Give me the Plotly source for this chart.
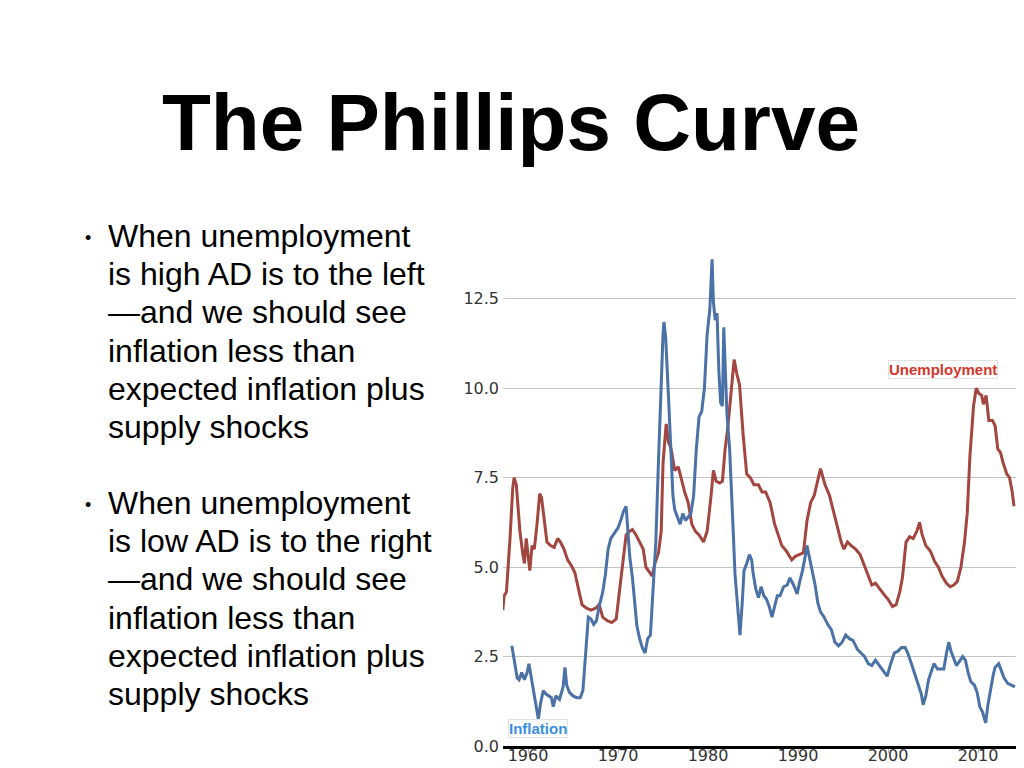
import plotly.graph_objects as go

# US unemployment rate (%)
unemp_year = [1957.2, 1957.35, 1957.6, 1957.8, 1958.0, 1958.3, 1958.45, 1958.7, 1958.9, 1959.1,
              1959.4, 1959.6, 1959.8, 1960.0, 1960.2, 1960.45, 1960.7, 1961.0, 1961.3, 1961.5,
              1961.8, 1962.1, 1962.5, 1962.9, 1963.3, 1963.6, 1964.0, 1964.4, 1964.8, 1965.2,
              1965.6, 1966.0, 1966.5, 1967.0, 1967.5, 1967.9, 1968.3, 1968.8, 1969.3, 1969.8,
              1970.1, 1970.5, 1970.9, 1971.3, 1971.6, 1972.0, 1972.4, 1972.8, 1973.1, 1973.5,
              1973.8, 1974.1, 1974.5, 1974.8, 1975.0, 1975.35, 1975.6, 1975.9, 1976.3, 1976.7,
              1977.0, 1977.4, 1977.8, 1978.2, 1978.6, 1979.0, 1979.5, 1979.9, 1980.3, 1980.6,
              1980.9, 1981.3, 1981.6, 1981.9, 1982.2, 1982.5, 1982.9, 1983.2, 1983.5, 1983.9,
              1984.3, 1984.7, 1985.1, 1985.6, 1986.0, 1986.4, 1986.9, 1987.4, 1987.8, 1988.2,
              1988.7, 1989.3, 1989.7, 1990.2, 1990.6, 1991.0, 1991.4, 1991.8, 1992.1, 1992.5,
              1993.0, 1993.5, 1993.9, 1994.4, 1994.8, 1995.1, 1995.5, 1995.9, 1996.4, 1996.9,
              1997.3, 1997.8, 1998.2, 1998.6, 1999.0, 1999.5, 2000.0, 2000.5, 2000.9, 2001.3,
              2001.6, 2002.0, 2002.4, 2002.8, 2003.2, 2003.5, 2003.8, 2004.2, 2004.7, 2005.2,
              2005.6, 2006.0, 2006.5, 2006.9, 2007.3, 2007.7, 2008.1, 2008.5, 2008.8, 2009.1,
              2009.5, 2009.8, 2010.1, 2010.4, 2010.6, 2010.9, 2011.2, 2011.6, 2011.9, 2012.2,
              2012.5, 2012.8, 2013.2, 2013.5, 2013.8, 2014.0]
unemp_rate = [3.8, 4.2, 4.3, 5.0, 5.8, 7.2, 7.5, 7.3, 6.6, 6.0,
              5.4, 5.1, 5.8, 5.3, 4.9, 5.6, 5.5, 6.2, 7.05, 6.95,
              6.4, 5.7, 5.6, 5.55, 5.8, 5.7, 5.5, 5.2, 5.05, 4.85,
              4.4, 3.95, 3.85, 3.8, 3.85, 3.95, 3.6, 3.5, 3.45, 3.55,
              4.2, 5.0, 5.9, 6.0, 6.05, 5.9, 5.7, 5.5, 5.0, 4.85,
              4.75, 5.1, 5.4, 6.0, 7.9, 9.0, 8.5, 8.3, 7.7, 7.8,
              7.5, 7.1, 6.8, 6.2, 6.0, 5.9, 5.7, 6.0, 6.9, 7.7,
              7.4, 7.35, 7.4, 8.3, 8.9, 9.7, 10.8, 10.4, 10.1, 8.7,
              7.6, 7.5, 7.3, 7.3, 7.1, 7.1, 6.8, 6.2, 5.9, 5.6,
              5.45, 5.2, 5.3, 5.35, 5.4, 6.3, 6.8, 7.0, 7.3, 7.75,
              7.3, 7.0, 6.6, 6.1, 5.7, 5.5, 5.7, 5.6, 5.5, 5.35,
              5.1, 4.8, 4.5, 4.55, 4.4, 4.25, 4.1, 3.9, 3.95, 4.3,
              4.7, 5.7, 5.85, 5.8, 6.0, 6.25, 5.9, 5.6, 5.45, 5.15,
              5.0, 4.75, 4.55, 4.45, 4.5, 4.6, 5.0, 5.7, 6.5, 8.1,
              9.5, 10.0, 9.85, 9.8, 9.55, 9.8, 9.1, 9.1, 8.95, 8.3,
              8.2, 7.9, 7.6, 7.5, 7.1, 6.7]

# core inflation (%)
infl_year = [1958.2, 1958.4, 1958.6, 1958.8, 1959.0, 1959.3, 1959.6, 1959.9, 1960.1, 1960.3,
             1960.6, 1960.9, 1961.15, 1961.4, 1961.7, 1962.0, 1962.3, 1962.6, 1962.8, 1963.1,
             1963.5, 1963.9, 1964.1, 1964.3, 1964.6, 1965.0, 1965.4, 1965.8, 1966.1, 1966.4,
             1966.7, 1967.0, 1967.3, 1967.6, 1967.9, 1968.3, 1968.6, 1968.9, 1969.2, 1969.6,
             1970.0, 1970.3, 1970.6, 1970.9, 1971.1, 1971.3, 1971.6, 1971.9, 1972.1, 1972.4,
             1972.7, 1973.0, 1973.3, 1973.6, 1973.9, 1974.2, 1974.5, 1974.75, 1975.0, 1975.1,
             1975.3, 1975.6, 1975.9, 1976.1, 1976.3, 1976.6, 1976.9, 1977.2, 1977.5, 1977.8,
             1978.1, 1978.4, 1978.7, 1979.0, 1979.3, 1979.6, 1979.9, 1980.2, 1980.45, 1980.6,
             1980.8, 1981.0, 1981.2, 1981.4, 1981.6, 1981.75, 1981.9, 1982.1, 1982.4, 1982.6,
             1982.8, 1983.0, 1983.3, 1983.55, 1983.8, 1984.0, 1984.3, 1984.6, 1984.85, 1985.0,
             1985.3, 1985.6, 1985.9, 1986.2, 1986.5, 1986.8, 1987.1, 1987.4, 1987.7, 1988.0,
             1988.4, 1988.8, 1989.1, 1989.5, 1989.9, 1990.2, 1990.5, 1990.8, 1991.0, 1991.2,
             1991.5, 1991.9, 1992.2, 1992.5, 1992.9, 1993.3, 1993.7, 1994.1, 1994.5, 1994.9,
             1995.3, 1995.7, 1996.1, 1996.6, 1997.0, 1997.4, 1997.8, 1998.2, 1998.6, 1999.0,
             1999.4, 1999.9, 2000.3, 2000.7, 2001.1, 2001.5, 2001.9, 2002.2, 2002.6, 2003.0,
             2003.4, 2003.7, 2003.9, 2004.2, 2004.5, 2004.8, 2005.1, 2005.5, 2005.9, 2006.2,
             2006.5, 2006.75, 2007.0, 2007.3, 2007.6, 2007.9, 2008.3, 2008.6, 2008.9, 2009.2,
             2009.6, 2009.9, 2010.2, 2010.5, 2010.85, 2011.1, 2011.4, 2011.7, 2011.9, 2012.3,
             2012.6, 2012.9, 2013.3, 2013.7, 2014.1]
infl_rate = [2.8, 2.5, 2.3, 1.9, 1.85, 2.05, 1.85, 2.05, 2.3, 2.0,
             1.5, 1.1, 0.75, 1.2, 1.55, 1.45, 1.4, 1.35, 1.1, 1.4,
             1.3, 1.65, 2.2, 1.7, 1.5, 1.4, 1.35, 1.35, 1.55, 2.5,
             3.6, 3.55, 3.4, 3.5, 3.9, 4.3, 4.8, 5.5, 5.8, 5.95,
             6.1, 6.3, 6.55, 6.7, 5.9, 5.3, 4.7, 4.0, 3.35, 3.0,
             2.75, 2.6, 3.0, 3.1, 4.5, 5.7, 8.0, 10.0, 11.5, 11.85,
             11.4, 9.8, 8.0, 7.0, 6.6, 6.4, 6.2, 6.5, 6.3, 6.4,
             6.5, 7.0, 8.3, 9.2, 9.35, 10.0, 11.5, 12.2, 13.6, 12.4,
             11.9, 12.1, 10.5, 9.6, 9.5, 11.7, 10.5, 9.3, 8.3, 7.3,
             6.0, 4.8, 3.8, 3.1, 4.0, 4.9, 5.1, 5.35, 5.2, 4.85,
             4.4, 4.15, 4.45, 4.2, 4.1, 3.9, 3.6, 3.9, 4.2, 4.2,
             4.45, 4.5, 4.7, 4.5, 4.25, 4.6, 4.9, 5.3, 5.6, 5.35,
             5.0, 4.5, 4.0, 3.75, 3.6, 3.4, 3.25, 2.9, 2.8, 2.9,
             3.1, 3.0, 2.95, 2.7, 2.6, 2.5, 2.3, 2.25, 2.4, 2.25,
             2.1, 1.95, 2.3, 2.6, 2.65, 2.75, 2.75, 2.6, 2.3, 2.0,
             1.7, 1.45, 1.15, 1.4, 1.85, 2.1, 2.3, 2.15, 2.15, 2.15,
             2.6, 2.9, 2.65, 2.45, 2.25, 2.35, 2.5, 2.4, 2.05, 1.8,
             1.7, 1.5, 1.1, 0.95, 0.65, 1.15, 1.6, 2.0, 2.2, 2.3,
             2.1, 1.9, 1.75, 1.7, 1.65]

y_ticks = [0, 2.5, 5, 7.5, 10, 12.5]
x_ticks = [1960, 1970, 1980, 1990, 2000, 2010]

title_text = "The Phillips Curve"
bullet_1 = ["When unemployment", "is high AD is to the left", "\u2014and we should see",
            "inflation less than", "expected inflation plus", "supply shocks"]
bullet_2 = ["When unemployment", "is low AD is to the right", "\u2014and we should see",
            "inflation less than", "expected inflation plus", "supply shocks"]

W, H = 1024, 768
PX_L, PX_R, PX_T, PX_B = 503, 1016, 254, 746  # plot area in pixels


def px(x):
    return (x - PX_L) / (PX_R - PX_L)


def py(y):
    return (PX_B - y) / (PX_B - PX_T)


fig = go.Figure()

fig.add_trace(go.Scatter(
    x=unemp_year, y=unemp_rate, mode="lines", name="Unemployment",
    line=dict(color="#a2463f", width=3),
))
fig.add_trace(go.Scatter(
    x=infl_year, y=infl_rate, mode="lines", name="Inflation",
    line=dict(color="#4a72a6", width=3),
))

annotations = []
annotations.append(dict(
    text=title_text, x=px(511), y=py(122), xref="paper", yref="paper",
    xanchor="center", yanchor="middle", showarrow=False,
    font=dict(family="Liberation Sans, Arial", size=80, color="black", weight="bold"),
))

line_pitch = 38.2
for block, base in ((bullet_1, 236), (bullet_2, 503)):
    annotations.append(dict(
        text="\u2022", x=px(88), y=py(base + 2), xref="paper", yref="paper",
        xanchor="center", yanchor="middle", showarrow=False,
        font=dict(family="Liberation Sans, Arial", size=18, color="black"),
    ))
    for i, line in enumerate(block):
        annotations.append(dict(
            text=line, x=px(106), y=py(base + i * line_pitch), xref="paper", yref="paper",
            xanchor="left", yanchor="middle", showarrow=False,
            font=dict(family="Liberation Sans, Arial", size=32, color="black"),
        ))

annotations.append(dict(
    text="<b>Unemployment</b>", x=px(943), y=py(369), xref="paper", yref="paper",
    xanchor="center", yanchor="middle", showarrow=False,
    font=dict(family="Liberation Sans, Arial", size=15, color="#d5382b"),
    bgcolor="white", bordercolor="#e2e2e2", borderwidth=1, borderpad=0,
))
annotations.append(dict(
    text="<b>Inflation</b>", x=px(538), y=py(728), xref="paper", yref="paper",
    xanchor="center", yanchor="middle", showarrow=False,
    font=dict(family="Liberation Sans, Arial", size=15, color="#3b8fdf"),
    bgcolor="white", bordercolor="#e2e2e2", borderwidth=1, borderpad=0,
))

fig.update_layout(
    width=W, height=H,
    margin=dict(l=PX_L, r=W - PX_R, t=PX_T, b=H - PX_B),
    plot_bgcolor="white", paper_bgcolor="white",
    showlegend=False,
    annotations=annotations,
    xaxis=dict(
        range=[1957.22, 2014.22], tickvals=x_ticks, showgrid=False, zeroline=False,
        showline=True, linecolor="black", linewidth=3, automargin=False,
        ticks="outside", ticklen=4, tickcolor="#bbbbbb",
        ticklabelstandoff=-11,
        tickfont=dict(family="DejaVu Sans", size=16, color="#333333"),
    ),
    yaxis=dict(
        range=[0, 13.75], tickvals=y_ticks, tickformat=".1f", automargin=False,
        showgrid=True, gridcolor="#c4c4c4", gridwidth=1, zeroline=False,
        ticklabelstandoff=3,
        tickfont=dict(family="DejaVu Sans", size=16, color="#333333"),
    ),
)

fig.write_html("out.html", config={"displayModeBar": False},
               post_script="document.body.style.margin='0';")
